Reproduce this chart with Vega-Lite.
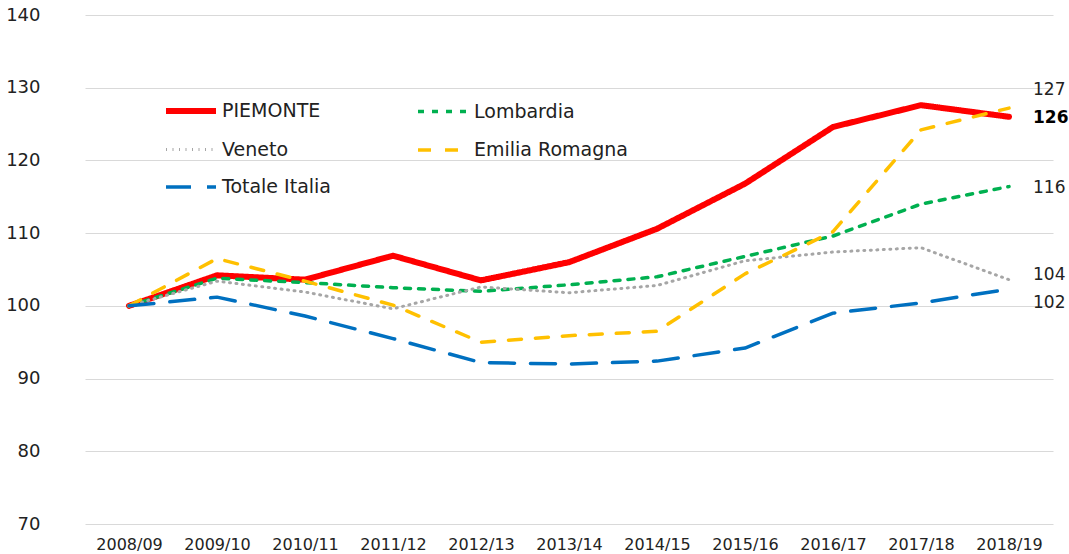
{
  "$schema": "https://vega.github.io/schema/vega-lite/v6.json",
  "autosize": "none",
  "width": 968,
  "height": 509,
  "padding": {"left": 85, "top": 15, "right": 16, "bottom": 30},
  "background": "white",
  "config": {
    "font": "DejaVu Sans",
    "view": {"stroke": null},
    "axis": {"labelColor": "#222", "labelFont": "DejaVu Sans"},
    "legend": {
      "title": null, "orient": "none", "legendX": 78, "legendY": 68, "columns": 2,
      "columnPadding": 80, "rowPadding": -24, "symbolType": "stroke", "symbolSize": 2500,
      "labelFontSize": 19, "labelColor": "#222", "labelOffset": 3, "labelLimit": 300
    }
  },
  "data": {
    "values": [
      {"year": "2008/09", "series": "PIEMONTE", "value": 100},
      {"year": "2009/10", "series": "PIEMONTE", "value": 104.2},
      {"year": "2010/11", "series": "PIEMONTE", "value": 103.6},
      {"year": "2011/12", "series": "PIEMONTE", "value": 106.9},
      {"year": "2012/13", "series": "PIEMONTE", "value": 103.5},
      {"year": "2013/14", "series": "PIEMONTE", "value": 106.0},
      {"year": "2014/15", "series": "PIEMONTE", "value": 110.6},
      {"year": "2015/16", "series": "PIEMONTE", "value": 116.8},
      {"year": "2016/17", "series": "PIEMONTE", "value": 124.6},
      {"year": "2017/18", "series": "PIEMONTE", "value": 127.6},
      {"year": "2018/19", "series": "PIEMONTE", "value": 126.0},
      {"year": "2008/09", "series": "Lombardia", "value": 100},
      {"year": "2009/10", "series": "Lombardia", "value": 103.8},
      {"year": "2010/11", "series": "Lombardia", "value": 103.2},
      {"year": "2011/12", "series": "Lombardia", "value": 102.5},
      {"year": "2012/13", "series": "Lombardia", "value": 102.0},
      {"year": "2013/14", "series": "Lombardia", "value": 102.9},
      {"year": "2014/15", "series": "Lombardia", "value": 104.0},
      {"year": "2015/16", "series": "Lombardia", "value": 106.8},
      {"year": "2016/17", "series": "Lombardia", "value": 109.6},
      {"year": "2017/18", "series": "Lombardia", "value": 114.0},
      {"year": "2018/19", "series": "Lombardia", "value": 116.4},
      {"year": "2008/09", "series": "Veneto", "value": 100},
      {"year": "2009/10", "series": "Veneto", "value": 103.4},
      {"year": "2010/11", "series": "Veneto", "value": 101.9},
      {"year": "2011/12", "series": "Veneto", "value": 99.6},
      {"year": "2012/13", "series": "Veneto", "value": 102.6},
      {"year": "2013/14", "series": "Veneto", "value": 101.8},
      {"year": "2014/15", "series": "Veneto", "value": 102.8},
      {"year": "2015/16", "series": "Veneto", "value": 106.2},
      {"year": "2016/17", "series": "Veneto", "value": 107.4},
      {"year": "2017/18", "series": "Veneto", "value": 108.0},
      {"year": "2018/19", "series": "Veneto", "value": 103.6},
      {"year": "2008/09", "series": "Emilia Romagna", "value": 100},
      {"year": "2009/10", "series": "Emilia Romagna", "value": 106.5},
      {"year": "2010/11", "series": "Emilia Romagna", "value": 103.4},
      {"year": "2011/12", "series": "Emilia Romagna", "value": 100.1},
      {"year": "2012/13", "series": "Emilia Romagna", "value": 95.0},
      {"year": "2013/14", "series": "Emilia Romagna", "value": 95.9},
      {"year": "2014/15", "series": "Emilia Romagna", "value": 96.5},
      {"year": "2015/16", "series": "Emilia Romagna", "value": 104.4},
      {"year": "2016/17", "series": "Emilia Romagna", "value": 110.2},
      {"year": "2017/18", "series": "Emilia Romagna", "value": 124.2},
      {"year": "2018/19", "series": "Emilia Romagna", "value": 127.2},
      {"year": "2008/09", "series": "Totale Italia", "value": 100},
      {"year": "2009/10", "series": "Totale Italia", "value": 101.2},
      {"year": "2010/11", "series": "Totale Italia", "value": 98.6},
      {"year": "2011/12", "series": "Totale Italia", "value": 95.5},
      {"year": "2012/13", "series": "Totale Italia", "value": 92.2},
      {"year": "2013/14", "series": "Totale Italia", "value": 92.0},
      {"year": "2014/15", "series": "Totale Italia", "value": 92.4},
      {"year": "2015/16", "series": "Totale Italia", "value": 94.2},
      {"year": "2016/17", "series": "Totale Italia", "value": 99.0},
      {"year": "2017/18", "series": "Totale Italia", "value": 100.4},
      {"year": "2018/19", "series": "Totale Italia", "value": 102.3}
    ]
  },
  "encoding": {
    "x": {
      "field": "year", "type": "ordinal",
      "scale": {"type": "point", "padding": 0.5},
      "axis": {"title": null, "labelAngle": 0, "labelFontSize": 16, "labelPadding": 12, "ticks": false, "domain": false, "grid": false}
    },
    "y": {
      "field": "value", "type": "quantitative",
      "scale": {"domain": [70, 140], "nice": false, "zero": false},
      "axis": {"title": null, "values": [70, 80, 90, 100, 110, 120, 130, 140], "labelFontSize": 18, "labelPadding": 45, "ticks": false, "domain": false, "grid": true, "gridColor": "#D9D9D9", "gridWidth": 1}
    }
  },
  "layer": [
    {
      "mark": {"type": "line", "strokeCap": "round", "strokeJoin": "round"},
      "encoding": {
        "detail": {"field": "series"},
        "color": {
          "field": "series", "type": "nominal",
          "scale": {"domain": ["PIEMONTE", "Veneto", "Totale Italia", "Lombardia", "Emilia Romagna"], "range": ["#FF0000", "#A6A6A6", "#0070C0", "#00B050", "#FFC000"]}
        },
        "strokeDash": {
          "field": "series", "type": "nominal",
          "scale": {"domain": ["PIEMONTE", "Veneto", "Totale Italia", "Lombardia", "Emilia Romagna"], "range": [[1, 0], [1, 5.5], [25, 16], [6, 8], [13, 14]]}
        },
        "strokeWidth": {
          "field": "series", "type": "nominal",
          "scale": {"type": "ordinal", "domain": ["PIEMONTE", "Veneto", "Totale Italia", "Lombardia", "Emilia Romagna"], "range": [6, 3, 3.5, 3.5, 3.5]}
        }
      }
    },
    {
      "transform": [{"filter": "datum.year === '2018/19' && datum.series === 'Emilia Romagna'"}],
      "mark": {"type": "text", "align": "left", "dx": 24, "dy": -18, "fontSize": 17, "color": "#222"},
      "encoding": {"text": {"field": "value", "type": "quantitative", "format": ".0f"}}
    },
    {
      "transform": [{"filter": "datum.year === '2018/19' && datum.series === 'PIEMONTE'"}],
      "mark": {"type": "text", "align": "left", "dx": 24, "dy": 1, "fontSize": 17, "fontWeight": "bold", "color": "#000"},
      "encoding": {"text": {"field": "value", "type": "quantitative", "format": ".0f"}}
    },
    {
      "transform": [{"filter": "datum.year === '2018/19' && datum.series === 'Lombardia'"}],
      "mark": {"type": "text", "align": "left", "dx": 24, "dy": 1, "fontSize": 17, "color": "#222"},
      "encoding": {"text": {"field": "value", "type": "quantitative", "format": ".0f"}}
    },
    {
      "transform": [{"filter": "datum.year === '2018/19' && datum.series === 'Veneto'"}],
      "mark": {"type": "text", "align": "left", "dx": 24, "dy": -5, "fontSize": 17, "color": "#222"},
      "encoding": {"text": {"field": "value", "type": "quantitative", "format": ".0f"}}
    },
    {
      "transform": [{"filter": "datum.year === '2018/19' && datum.series === 'Totale Italia'"}],
      "mark": {"type": "text", "align": "left", "dx": 24, "dy": 14, "fontSize": 17, "color": "#222"},
      "encoding": {"text": {"field": "value", "type": "quantitative", "format": ".0f"}}
    }
  ]
}
